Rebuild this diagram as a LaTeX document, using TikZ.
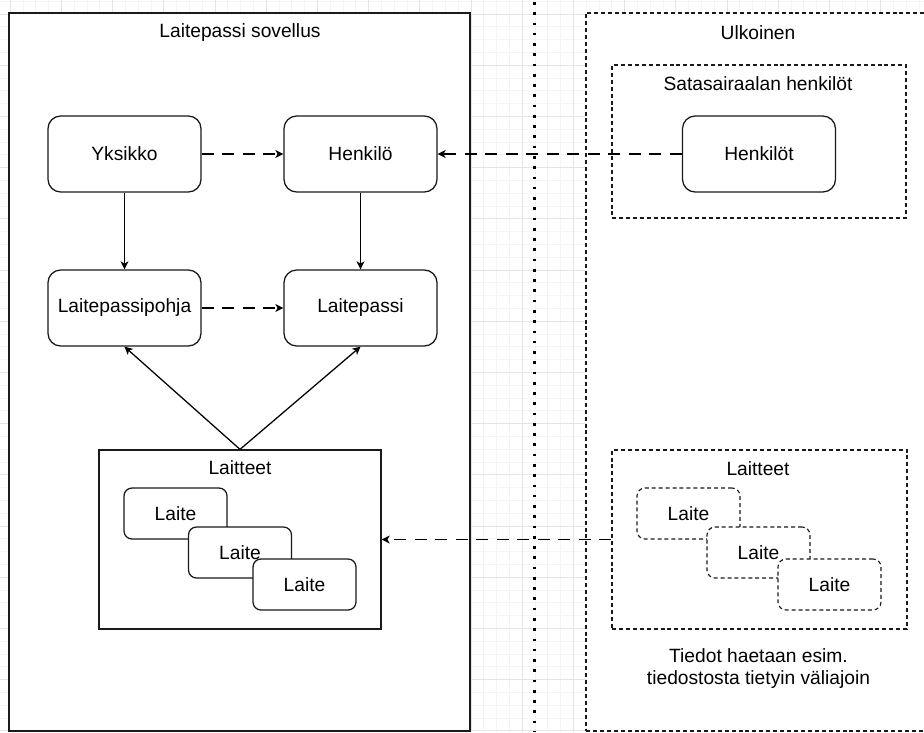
\documentclass[tikz,border=0pt]{standalone}
\usepackage{fontspec}
\setmainfont{Liberation Sans}
\usetikzlibrary{arrows.meta}

\definecolor{gridminor}{HTML}{F4F4F4}
\definecolor{gridmajor}{HTML}{E4E4E4}
\definecolor{edge}{HTML}{1A1A1A}

\tikzset{
  txt/.style={font=\fontsize{14.4pt}{16.5pt}\selectfont, text=black},
  plainbox/.style={draw=edge, line width=0.95pt, fill=white, inner sep=0pt},
  dashbox/.style={draw=edge, line width=0.85pt, fill=white, inner sep=0pt,
    dash pattern=on 3pt off 2.2pt},
  entity/.style={plainbox, rounded corners=9.5pt, txt,
    minimum width=114.75pt, minimum height=57pt},
  laite/.style={plainbox, rounded corners=6pt, txt,
    minimum width=77.25pt, minimum height=38.25pt},
  laitedash/.style={dashbox, rounded corners=6pt, txt,
    minimum width=77.25pt, minimum height=38.25pt},
  tip/.style={-{Stealth[length=6pt, width=6pt, inset=1.6pt]}},
  solidarrow/.style={tip, draw=black, line width=0.95pt},
  dasharrow/.style={tip, draw=black, line width=0.95pt,
    dash pattern=on 9pt off 6.4pt},
  dotline/.style={draw=black, line width=2pt, dash pattern=on 2pt off 5.7pt},
}

\begin{document}
\begin{tikzpicture}[x=0.75pt, y=-0.75pt]
  \useasboundingbox (0,0) rectangle (924,732);
  \clip (0,0) rectangle (924,732);

  % background grid
  \foreach \i in {0,...,72} {
    \pgfmathsetmacro\gx{10.2+12.8*\i}
    \draw[gridminor, line width=0.6pt] (\gx,0) -- (\gx,732);
  }
  \foreach \i in {0,...,57} {
    \pgfmathsetmacro\gy{1.2+12.8*\i}
    \draw[gridminor, line width=0.6pt] (0,\gy) -- (924,\gy);
  }
  \foreach \i in {0,...,18} {
    \pgfmathsetmacro\gx{10.2+51.2*\i}
    \draw[gridmajor, line width=0.6pt] (\gx,0) -- (\gx,732);
  }
  \foreach \i in {0,...,14} {
    \pgfmathsetmacro\gy{14+51.2*\i}
    \draw[gridmajor, line width=0.6pt] (0,\gy) -- (924,\gy);
  }

  % separator between the application and the outside world
  \coordinate (septop) at (534.3,2);
  \coordinate (sepbot) at (534.3,732);
  \draw[dotline] (septop) -- (sepbot);

  % application container
  \node[plainbox, minimum width=345.75pt, minimum height=538.5pt]
    (sovellus) at (239.5,372) {};
  \node[txt] (sovellusTitle) at (240,33) {Laitepassi sovellus};

  % external container
  \node[dashbox, minimum width=258pt, minimum height=538.5pt]
    (ulkoinen) at (758,372) {};
  \node[txt] (ulkoinenTitle) at (758,33) {Ulkoinen};

  \node[dashbox, minimum width=220.5pt, minimum height=114.75pt]
    (satasairaala) at (759,141.5) {};
  \node[txt] (satasairaalaTitle) at (758,84) {Satasairaalan henkilöt};

  % entities of the application
  \node[entity] (yksikko) at (124.5,154) {Yksikko};
  \node[entity] (henkilo) at (360.5,154) {Henkilö};
  \node[entity] (pohja)   at (124.5,308) {Laitepassipohja};
  \node[entity] (passi)   at (360.5,308) {Laitepassi};
  \node[entity] (henkilot) at (759,154) {Henkilöt};

  % devices inside the application
  \node[plainbox, minimum width=211.5pt, minimum height=134.25pt]
    (laitteetA) at (240,539.5) {};
  \node[txt] (laitteetATitle) at (240,468) {Laitteet};
  \node[laite] (laiteA1) at (175.5,513.5) {Laite};
  \node[laite] (laiteA2) at (240,552.5) {Laite};
  \node[laite] (laiteA3) at (304.5,584.5) {Laite};

  % devices from the external source
  \node[dashbox, minimum width=221.25pt, minimum height=134.25pt]
    (laitteetB) at (759.5,539.5) {};
  \node[txt] (laitteetBTitle) at (758,469) {Laitteet};
  \node[laitedash] (laiteB1) at (688.5,513.5) {Laite};
  \node[laitedash] (laiteB2) at (758.5,552.5) {Laite};
  \node[laitedash] (laiteB3) at (829.5,584.5) {Laite};

  \node[txt, align=center] (tiedot) at (758.5,669)
    {Tiedot haetaan esim.\\tiedostosta tietyin väliajoin};

  % connectors
  \draw[dasharrow]  (yksikko) -- (henkilo);
  \draw[solidarrow] (yksikko) -- (pohja);
  \draw[solidarrow] (henkilo) -- (passi);
  \draw[dasharrow]  (pohja) -- (passi);
  \draw[dasharrow]  (henkilot) -- (henkilo);
  \draw[solidarrow] (laitteetA.north) -- (pohja.south);
  \draw[solidarrow] (laitteetA.north) -- (passi.south);
  \draw[dasharrow]  (laitteetB.west) -- (laitteetA.east);
\end{tikzpicture}
\end{document}
